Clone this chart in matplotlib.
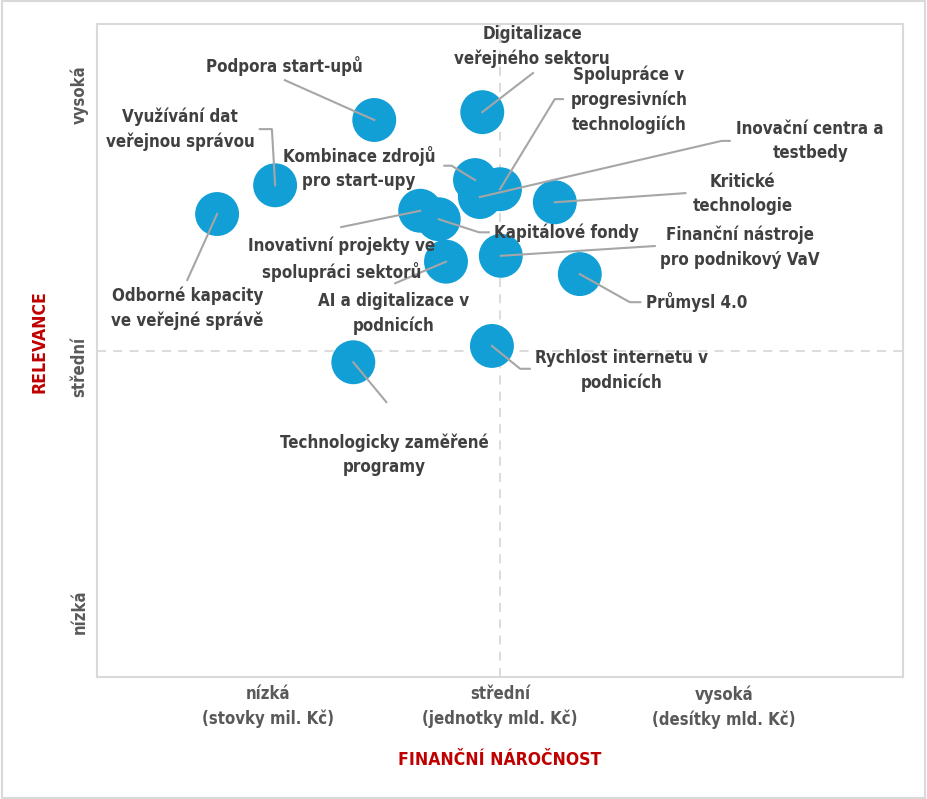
import matplotlib.pyplot as plt
from matplotlib.patches import Rectangle

# finanční náročnost (x) a relevance (y), osa 0..10, střed 5
names = ['Podpora start-upů', 'Digitalizace\nveřejného sektoru', 'Využívání dat\nveřejnou správou',
         'Odborné kapacity\nve veřejné správě', 'Kombinace zdrojů\npro start-upy',
         'Spolupráce v\nprogresivních\ntechnologiích', 'Inovační centra a\ntestbedy',
         'Kritické\ntechnologie', 'Inovativní projekty ve\nspolupráci sektorů', 'Kapitálové fondy',
         'AI a digitalizace v\npodnicích', 'Finanční nástroje\npro podnikový VaV', 'Průmysl 4.0',
         'Rychlost internetu v\npodnicích', 'Technologicky zaměřené\nprogramy']
cost = [3.44, 4.78, 2.21, 1.49, 4.69, 5.00, 4.75, 5.68, 4.01, 4.24, 4.33, 5.01, 5.99, 4.90, 3.18]
relevance = [8.53, 8.65, 7.53, 7.09, 7.61, 7.47, 7.35, 7.27, 7.14, 7.01, 6.36, 6.45, 6.17, 5.07, 4.82]

x_ticks = [2.12, 5.0, 7.78]
x_tick_labels = ['nízká\n(stovky mil. Kč)', 'střední\n(jednotky mld. Kč)', 'vysoká\n(desítky mld. Kč)']
y_ticks = [1.0, 4.75, 8.91]
y_tick_labels = ['nízká', 'střední', 'vysoká']

# label placement (text centre, leader line points)
label_pos = [(2.33, 9.36), (5.40, 9.66), (1.03, 8.39), (1.12, 5.64), (3.25, 7.79),
             (6.60, 8.84), (8.85, 8.21), (8.01, 7.40), (3.03, 6.40), (5.83, 6.80),
             (3.68, 5.56), (7.98, 6.58), (7.44, 5.74), (6.51, 4.69), (3.57, 3.40)]
leaders = [[(2.33, 9.14)], [(5.41, 9.25)], [(2.17, 8.39), (2.02, 8.39)], [(1.12, 6.08)],
           [(4.40, 7.83), (4.31, 7.83)], [(5.68, 8.85), (5.78, 8.85)], [(7.75, 8.21), (7.85, 8.21)],
           [(7.30, 7.41)], [(3.03, 6.89)], [(4.74, 6.81), (4.86, 6.81)], [(3.70, 6.03)],
           [(6.92, 6.60)], [(6.61, 5.74), (6.74, 5.74)], [(5.25, 4.72), (5.37, 4.72)],
           [(3.59, 4.21)]]

plt.rcParams['font.family'] = ['DejaVu Sans']
plt.rcParams['font.stretch'] = 'condensed'

fig = plt.figure(figsize=(9.27, 7.99), dpi=100)
fig.patches.append(Rectangle((0.002, 0.001), 0.996, 0.998, transform=fig.transFigure,
                             fill=False, edgecolor='#d9d9d9', lw=1.5))
ax = fig.add_axes([97 / 927, 1 - 677 / 799, 806 / 927, 653 / 799])
ax.set_xlim(0, 10)
ax.set_ylim(0, 10)

ax.axvline(5, color='#d9d9d9', ls=(0, (5, 4)), lw=1.3, zorder=0)
ax.axhline(5, color='#d9d9d9', ls=(0, (5, 4)), lw=1.3, zorder=0)

ax.scatter(cost, relevance, s=1000, color='#129fd6', edgecolors='none', zorder=2)

for i in range(len(names)):
    xs = [cost[i]] + [p[0] for p in leaders[i]]
    ys = [relevance[i]] + [p[1] for p in leaders[i]]
    ax.plot(xs, ys, color='#a6a6a6', lw=1.5, zorder=3)
    ax.text(label_pos[i][0], label_pos[i][1], names[i], ha='center', va='center',
            fontsize=12.2, fontweight='bold', color='#404040', linespacing=1.45, zorder=4)

for s in ax.spines.values():
    s.set_color('#d9d9d9')
    s.set_linewidth(1.5)

ax.set_xticks(x_ticks)
ax.set_xticklabels(x_tick_labels, fontsize=12, fontweight='bold', color='#595959', linespacing=1.45)
ax.set_yticks(y_ticks)
ax.set_yticklabels(y_tick_labels, fontsize=12, fontweight='bold', color='#595959',
                   rotation=90, va='center')
ax.tick_params(length=0, pad=6)

fig.text(500 / 927, 1 - 760 / 799, 'FINANČNÍ NÁROČNOST', ha='center', va='center',
         fontsize=12.6, fontweight='bold', color='#c00000')
fig.text(40 / 927, 1 - 342 / 799, 'RELEVANCE', ha='center', va='center', rotation=90,
         fontsize=12.6, fontweight='bold', color='#c00000')

fig.savefig('out.png', dpi=100)
